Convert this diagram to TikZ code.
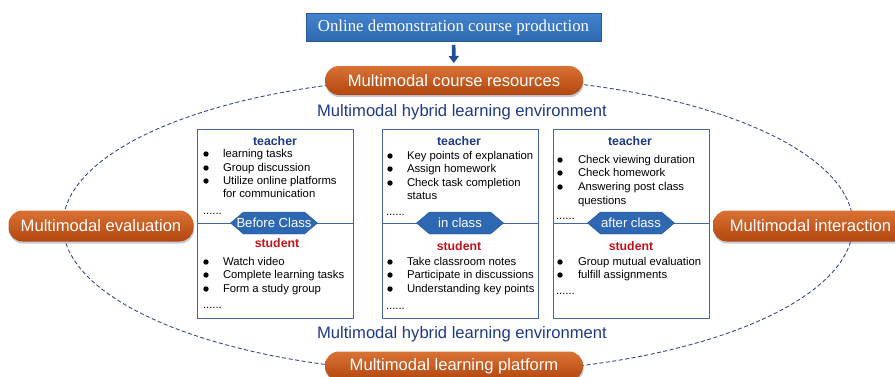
\documentclass[tikz,border=0pt]{standalone}
\usepackage{fontspec}
\setmainfont{Liberation Sans}
\newfontfamily\titleserif{Liberation Serif}
\usetikzlibrary{arrows.meta,shadows}

\definecolor{topblue}{HTML}{4384CE}
\definecolor{topblueDark}{HTML}{2E69B0}
\definecolor{arrowblue}{HTML}{1F4E9A}
\definecolor{pillTop}{HTML}{D97234}
\definecolor{pillBot}{HTML}{B2460F}
\definecolor{navytext}{HTML}{1F3A85}
\definecolor{studentred}{HTML}{C4121C}
\definecolor{panelblue}{HTML}{4466A6}
\definecolor{hexblue}{HTML}{2E68B2}
\definecolor{dashblue}{HTML}{35488A}
\definecolor{pillshadow}{HTML}{5A6A90}

\newcommand\bigsize{\fontsize{16.6}{20}\selectfont}
\newcommand\itemsize{\fontsize{11.3}{13}\selectfont}
\newcommand\headsize{\fontsize{12.3}{14}\selectfont}
\newcommand\tagsize{\fontsize{13.1}{15}\selectfont}

% elongated hexagon label sitting on a panel divider
\newcommand\phasetag[4]{%
  \fill[hexblue, draw=hexblue!80!black, line width=0.4pt]
    (#2-43.5,#3) -- (#2-30.5,#3-11) -- (#2+30.5,#3-11) -- (#2+43.5,#3)
    -- (#2+30.5,#3+11) -- (#2-30.5,#3+11) -- cycle;
  \node[tagtext] (#1) at (#2,#3) {#4};}

% bullet point followed by its text
\newcommand\bulletitem[5]{%
  \fill (#2,#4) circle (2.7pt);
  \node[itemtext] (#1) at (#3,#4) {#5};}

\begin{document}
\begin{tikzpicture}[x=1pt,y=-1pt,
  every node/.style={inner sep=0pt,outer sep=0pt},
  pill/.style={rounded corners=14pt, top color=pillTop, bottom color=pillBot,
    text=white, font=\bigsize,
    drop shadow={shadow xshift=0.6pt,shadow yshift=-2.2pt,opacity=0.35,fill=pillshadow}},
  topbox/.style={top color=topblue, bottom color=topblueDark, draw=topblueDark!85!black,
    line width=0.4pt, text=white, font=\titleserif\fontsize{16.8}{20}\selectfont,
    minimum width=295pt, minimum height=28pt},
  envtext/.style={text=navytext, font=\bigsize},
  panel/.style={draw=panelblue, line width=1pt, fill=white,
    minimum width=156pt, minimum height=189pt},
  divider/.style={draw=panelblue, line width=1pt},
  tagtext/.style={text=white, font=\tagsize},
  teacherhead/.style={text=navytext, font=\headsize\bfseries},
  studenthead/.style={text=studentred, font=\headsize\bfseries},
  itemtext/.style={anchor=base west, yshift=-3.8pt, font=\itemsize},
  dotsline/.style={anchor=base west, yshift=-1pt, font=\itemsize},
  dashring/.style={draw=dashblue, line width=0.9pt, dash pattern=on 4pt off 2.5pt},
  fatarrow/.style={draw=arrowblue, line width=3.6pt,
    -{Triangle[width=10pt,length=7pt]}, shorten <=4pt, shorten >=3pt}
]
\useasboundingbox (0,0) rectangle (895,376);
\clip (0,0) rectangle (895,376);

% dashed ring of the learning environment
\draw[dashring] (458,225) ellipse [x radius=395pt, y radius=148pt];

% production step and its arrow
\node[topbox] (prod) at (453.5,27) {Online demonstration course production};

% four multimodal pills round the ring
\node[pill, minimum width=258pt, minimum height=29pt] (res) at (454,80.5) {Multimodal course resources};
\node[pill, minimum width=185pt, minimum height=31pt] (eval) at (101,226) {Multimodal evaluation};
\node[pill, minimum width=195pt, minimum height=31pt] (inter) at (810.5,226) {Multimodal interaction};
\node[pill, minimum width=258pt, minimum height=29pt] (plat) at (454,366) {Multimodal learning platform};

\draw[fatarrow] (prod) -- (res);

\node[envtext] (envtop) at (462,112) {Multimodal hybrid learning environment};
\node[envtext] (envbot) at (462,334) {Multimodal hybrid learning environment};

% three phase panels
\node[panel] (p1) at (275,223.5) {};
\node[panel] (p2) at (460,223.5) {};
\node[panel] (p3) at (631,223.5) {};
\draw[divider] (p1.west) -- (p1.east);
\draw[divider] (p2.west) -- (p2.east);
\draw[divider] (p3.west) -- (p3.east);

\phasetag{tag1}{274}{223}{Before Class}
\phasetag{tag2}{460}{223}{in class}
\phasetag{tag3}{631}{223}{after class}

% before class
\node[teacherhead] (h1t) at (275,141) {teacher};
\bulletitem{a1}{206}{223}{154}{learning tasks}
\bulletitem{a2}{206}{223}{168}{Group discussion}
\bulletitem{a3}{206}{223}{181}{Utilize online platforms}
\node[itemtext] (a4) at (223,194) {for communication};
\node[dotsline] (a5) at (203,213) {......};
\node[studenthead] (h1s) at (277,243) {student};
\bulletitem{s1}{206}{223}{262}{Watch video}
\bulletitem{s2}{206}{223}{275}{Complete learning tasks}
\bulletitem{s3}{206}{223}{289}{Form a study group}
\node[dotsline] (s4) at (203,307) {......};

% in class
\node[teacherhead] (h2t) at (459,141) {teacher};
\bulletitem{b1}{390}{407}{156}{Key points of explanation}
\bulletitem{b2}{390}{407}{169}{Assign homework}
\bulletitem{b3}{390}{407}{183}{Check task completion}
\node[itemtext] (b4) at (407,196) {status};
\node[dotsline] (b5) at (386,214) {......};
\node[studenthead] (h2s) at (459,246) {student};
\bulletitem{t1}{390}{407}{262}{Take classroom notes}
\bulletitem{t2}{390}{407}{275}{Participate in discussions}
\bulletitem{t3}{390}{407}{289}{Understanding key points}
\node[dotsline] (t4) at (386,308) {......};

% after class
\node[teacherhead] (h3t) at (630,141) {teacher};
\bulletitem{c1}{560}{578}{160}{Check viewing duration}
\bulletitem{c2}{560}{578}{173}{Check homework}
\bulletitem{c3}{560}{578}{187}{Answering post class}
\node[itemtext] (c4) at (578,201) {questions};
\node[dotsline] (c5) at (556,218) {......};
\node[studenthead] (h3s) at (631,246) {student};
\bulletitem{u1}{560}{578}{262}{Group mutual evaluation}
\bulletitem{u2}{560}{578}{275}{fulfill assignments}
\node[dotsline] (u3) at (556,293) {......};
\end{tikzpicture}
\end{document}
